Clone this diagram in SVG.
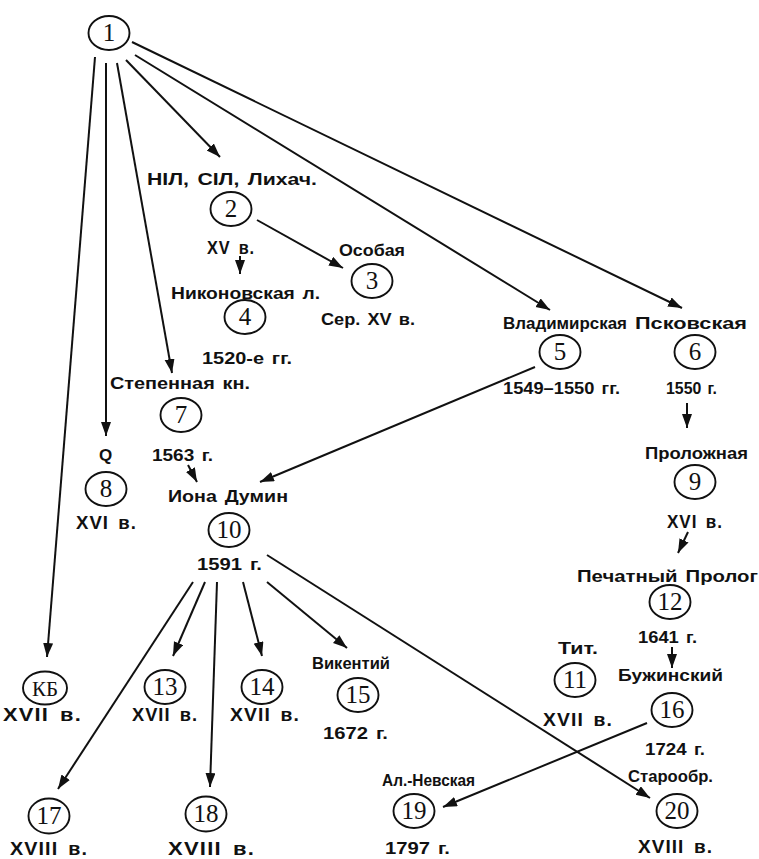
<svg xmlns="http://www.w3.org/2000/svg" width="759" height="859" viewBox="0 0 759 859">
<defs>
<marker id="ah" markerUnits="userSpaceOnUse" markerWidth="15" markerHeight="11" refX="14" refY="5" orient="auto">
<path d="M0,0 L14,5 L0,10 z" fill="#111"/>
</marker>
<style>
.n ellipse{fill:none;stroke:#111;stroke-width:1.9}
.n text.d{font-family:"Liberation Serif",serif;font-size:25px;text-anchor:middle;fill:#111}
.n text.l{font-family:"Liberation Sans",Arial,sans-serif;font-weight:bold;font-size:17px;word-spacing:2px;fill:#111}
.n text.r{letter-spacing:1px;word-spacing:3px;font-size:18px}
#edges line{stroke:#111;stroke-width:2;marker-end:url(#ah)}
</style>
</defs>
<rect width="759" height="859" fill="#fff"/>
<g id="edges">
<line x1="95" y1="57" x2="47" y2="657"/>
<line x1="106" y1="63" x2="106" y2="436"/>
<line x1="117" y1="63" x2="172" y2="373"/>
<line x1="126" y1="60" x2="220" y2="157"/>
<line x1="135" y1="55" x2="550" y2="310"/>
<line x1="132" y1="42" x2="682" y2="308"/>
<line x1="257" y1="220" x2="343" y2="268"/>
<line x1="240" y1="256" x2="240" y2="274"/>
<line x1="687" y1="403" x2="687" y2="428"/>
<line x1="688" y1="532" x2="678" y2="553"/>
<line x1="188" y1="465" x2="197" y2="482"/>
<line x1="535" y1="367" x2="260" y2="482"/>
<line x1="193" y1="582" x2="58" y2="789"/>
<line x1="205" y1="582" x2="173" y2="656"/>
<line x1="217" y1="582" x2="210" y2="787"/>
<line x1="243" y1="582" x2="262" y2="656"/>
<line x1="267" y1="582" x2="347" y2="648"/>
<line x1="267" y1="555" x2="650" y2="798"/>
<line x1="672" y1="647" x2="672" y2="668"/>
<line x1="647" y1="723" x2="443" y2="807"/>
</g>
<g id="n1" class="n"><ellipse cx="109" cy="33" rx="20.5" ry="17"/><text class="d" x="109" y="41">1</text></g>
<g id="n2" class="n"><text class="l" x="147" y="185" textLength="170" lengthAdjust="spacingAndGlyphs">НIЛ, СIЛ, Лихач.</text><ellipse cx="231" cy="209" rx="20.5" ry="17"/><text class="d" x="231" y="217">2</text><text class="l r" x="207" y="254" textLength="48" lengthAdjust="spacingAndGlyphs">XV в.</text></g>
<g id="n3" class="n"><text class="l" x="339" y="256" textLength="66" lengthAdjust="spacingAndGlyphs">Особая</text><ellipse cx="372" cy="281" rx="20.5" ry="17"/><text class="d" x="372" y="289">3</text><text class="l" x="321" y="325" textLength="94" lengthAdjust="spacingAndGlyphs">Сер. XV в.</text></g>
<g id="n4" class="n"><text class="l" x="171" y="299" textLength="149" lengthAdjust="spacingAndGlyphs">Никоновская л.</text><ellipse cx="245" cy="317" rx="20.5" ry="17"/><text class="d" x="245" y="325">4</text><text class="l" x="202" y="364" textLength="90" lengthAdjust="spacingAndGlyphs">1520-е гг.</text></g>
<g id="n5" class="n"><text class="l" x="503" y="329" textLength="124" lengthAdjust="spacingAndGlyphs">Владимирская</text><ellipse cx="560" cy="352" rx="20.5" ry="17"/><text class="d" x="560" y="360">5</text><text class="l" x="503" y="394" textLength="117" lengthAdjust="spacingAndGlyphs">1549–1550 гг.</text></g>
<g id="n6" class="n"><text class="l" x="635" y="329" textLength="112" lengthAdjust="spacingAndGlyphs">Псковская</text><ellipse cx="695" cy="352" rx="20.5" ry="17"/><text class="d" x="695" y="360">6</text><text class="l" x="666" y="394" textLength="51" lengthAdjust="spacingAndGlyphs">1550 г.</text></g>
<g id="n7" class="n"><text class="l" x="110" y="389" textLength="140" lengthAdjust="spacingAndGlyphs">Степенная кн.</text><ellipse cx="181" cy="415" rx="20.5" ry="17"/><text class="d" x="181" y="423">7</text><text class="l" x="152" y="461" textLength="61" lengthAdjust="spacingAndGlyphs">1563 г.</text></g>
<g id="n8" class="n"><text class="l" x="99" y="461">Q</text><ellipse cx="106" cy="489" rx="20.5" ry="17"/><text class="d" x="106" y="497">8</text><text class="l r" x="76" y="529" textLength="61" lengthAdjust="spacingAndGlyphs">XVI в.</text></g>
<g id="n9" class="n"><text class="l" x="645" y="459" textLength="103" lengthAdjust="spacingAndGlyphs">Проложная</text><ellipse cx="695" cy="482" rx="20.5" ry="17"/><text class="d" x="695" y="490">9</text><text class="l r" x="667" y="528" textLength="56" lengthAdjust="spacingAndGlyphs">XVI в.</text></g>
<g id="n10" class="n"><text class="l" x="168" y="502" textLength="120" lengthAdjust="spacingAndGlyphs">Иона Думин</text><ellipse cx="229" cy="530" rx="20.5" ry="17"/><text class="d" x="229" y="538">10</text><text class="l" x="197" y="570" textLength="65" lengthAdjust="spacingAndGlyphs">1591 г.</text></g>
<g id="n11" class="n"><text class="l" x="558" y="654" textLength="40" lengthAdjust="spacingAndGlyphs">Тит.</text><ellipse cx="575" cy="680" rx="20.5" ry="17"/><text class="d" x="575" y="688">11</text><text class="l r" x="543" y="726" textLength="70" lengthAdjust="spacingAndGlyphs">XVII в.</text></g>
<g id="n12" class="n"><text class="l" x="577" y="582" textLength="181" lengthAdjust="spacingAndGlyphs">Печатный Пролог</text><ellipse cx="670" cy="602" rx="20.5" ry="17"/><text class="d" x="670" y="610">12</text><text class="l" x="638" y="643" textLength="59" lengthAdjust="spacingAndGlyphs">1641 г.</text></g>
<g id="nKB" class="n"><ellipse cx="45" cy="688" rx="22" ry="16.5"/><text class="d" x="45" y="696" style="font-size:21px">КБ</text><text class="l r" x="3" y="721" textLength="79" lengthAdjust="spacingAndGlyphs">XVII в.</text></g>
<g id="n13" class="n"><ellipse cx="165" cy="687" rx="20.5" ry="17"/><text class="d" x="165" y="695">13</text><text class="l r" x="132" y="721" textLength="66" lengthAdjust="spacingAndGlyphs">XVII в.</text></g>
<g id="n14" class="n"><ellipse cx="262" cy="687" rx="20.5" ry="17"/><text class="d" x="262" y="695">14</text><text class="l r" x="230" y="721" textLength="70" lengthAdjust="spacingAndGlyphs">XVII в.</text></g>
<g id="n15" class="n"><text class="l" x="312" y="669" textLength="78" lengthAdjust="spacingAndGlyphs">Викентий</text><ellipse cx="358" cy="695" rx="20.5" ry="17"/><text class="d" x="358" y="703">15</text><text class="l" x="323" y="739" textLength="65" lengthAdjust="spacingAndGlyphs">1672 г.</text></g>
<g id="n16" class="n"><text class="l" x="618" y="681" textLength="105" lengthAdjust="spacingAndGlyphs">Бужинский</text><ellipse cx="672" cy="710" rx="20.5" ry="17"/><text class="d" x="672" y="718">16</text><text class="l" x="645" y="755" textLength="60" lengthAdjust="spacingAndGlyphs">1724 г.</text></g>
<g id="n17" class="n"><ellipse cx="49" cy="816" rx="20.5" ry="17.5"/><text class="d" x="49" y="824">17</text><text class="l r" x="10" y="855" textLength="78" lengthAdjust="spacingAndGlyphs">XVIII в.</text></g>
<g id="n18" class="n"><ellipse cx="206" cy="814" rx="20.5" ry="17.5"/><text class="d" x="206" y="822">18</text><text class="l r" x="168" y="855" textLength="87" lengthAdjust="spacingAndGlyphs">XVIII в.</text></g>
<g id="n19" class="n"><text class="l" x="382" y="786" textLength="93" lengthAdjust="spacingAndGlyphs">Ал.-Невская</text><ellipse cx="414" cy="811" rx="20.5" ry="17"/><text class="d" x="414" y="819">19</text><text class="l" x="385" y="854" textLength="65" lengthAdjust="spacingAndGlyphs">1797 г.</text></g>
<g id="n20" class="n"><text class="l" x="628" y="782" textLength="85" lengthAdjust="spacingAndGlyphs">Старообр.</text><ellipse cx="677" cy="811" rx="20.5" ry="17"/><text class="d" x="677" y="819">20</text><text class="l r" x="638" y="853" textLength="75" lengthAdjust="spacingAndGlyphs">XVIII в.</text></g>
</svg>
